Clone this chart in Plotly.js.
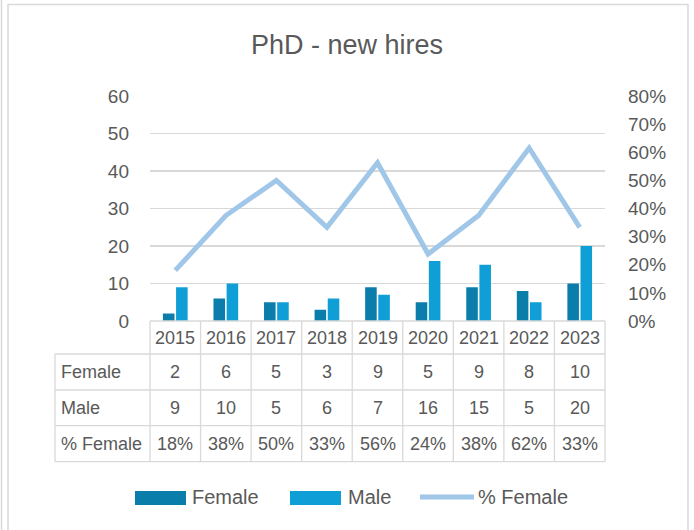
<!DOCTYPE html>
<html>
<head>
<meta charset="utf-8">
<script src="https://cdn.plot.ly/plotly-3.0.1.min.js"></script>
<style>html,body{margin:0;padding:0;background:#fff;}#chart{width:694px;height:530px;}</style>
</head>
<body>
<div id="chart"></div>
<script>
// ---- data ----
var years = ['2015','2016','2017','2018','2019','2020','2021','2022','2023'];
var female = [2, 6, 5, 3, 9, 5, 9, 8, 10];
var male = [9, 10, 5, 6, 7, 16, 15, 5, 20];
var pctFemale = [0.18, 0.375, 0.5, 0.333, 0.5625, 0.238, 0.375, 0.615, 0.333];
var rowNames = ['Female', 'Male', '% Female'];
var leftTicks = [0, 10, 20, 30, 40, 50, 60];
var rightTicks = [0, 0.1, 0.2, 0.3, 0.4, 0.5, 0.6, 0.7, 0.8];

// ---- styling / geometry ----
var W = 694, H = 530;
var FONT = 'Liberation Sans, Arial, sans-serif';
var TXT = '#595959';
var GRID = '#d9d9d9';
var cFemale = '#0B7DAB', cMale = '#0F9ED5', cLine = '#A0C6E8';
var px = function (x) { return x / W; };
var py = function (y) { return (H - y) / H; };
var plotL = 150, plotR = 605, plotT = 96, plotB = 321;

var traces = [
  { type: 'bar', name: 'Female', x: years, y: female, marker: { color: cFemale }, yaxis: 'y' },
  { type: 'bar', name: 'Male', x: years, y: male, marker: { color: cMale }, yaxis: 'y' },
  { type: 'scatter', mode: 'lines', name: '% Female', x: years, y: pctFemale, yaxis: 'y2',
    line: { color: cLine, width: 5 } }
];

var shapes = [];
var annotations = [];
var lineStyle = { color: GRID, width: 1.3 };

// outer frames
shapes.push({ type: 'line', xref: 'paper', yref: 'paper', x0: px(1.5), x1: px(1.5), y0: 0, y1: 1, line: { color: GRID, width: 1.5 } });
shapes.push({ type: 'rect', xref: 'paper', yref: 'paper', x0: px(8), x1: px(688), y0: -0.02, y1: py(4.5), line: { color: GRID, width: 1.5 } });

// data table grid
var rowLines = [354, 390, 425.7, 461.7];
var tableLeft = 55, tableBottom = 461.7;
shapes.push({ type: 'line', xref: 'paper', yref: 'paper', x0: px(plotL), x1: px(plotR), y0: py(plotB), y1: py(plotB), line: lineStyle });
rowLines.forEach(function (y) {
  shapes.push({ type: 'line', xref: 'paper', yref: 'paper', x0: px(tableLeft), x1: px(plotR), y0: py(y), y1: py(y), line: lineStyle });
});
shapes.push({ type: 'line', xref: 'paper', yref: 'paper', x0: px(tableLeft), x1: px(tableLeft), y0: py(354), y1: py(tableBottom), line: lineStyle });
var colW = (plotR - plotL) / years.length;
for (var k = 0; k <= years.length; k++) {
  var xx = plotL + k * colW;
  shapes.push({ type: 'line', xref: 'paper', yref: 'paper', x0: px(xx), x1: px(xx), y0: py(plotB), y1: py(tableBottom), line: lineStyle });
}

// table text
var rowCenters = [338, 372, 408, 443.7];
var cellFont = { family: FONT, size: 18, color: TXT };
var rows = [
  years,
  female.map(String),
  male.map(String),
  pctFemale.map(function (v) { return Math.round(v * 100) + '%'; })
];
rows.forEach(function (vals, r) {
  vals.forEach(function (v, i) {
    annotations.push({ xref: 'paper', yref: 'paper', x: px(plotL + (i + 0.5) * colW), y: py(rowCenters[r]), text: v,
      showarrow: false, xanchor: 'center', yanchor: 'middle', font: cellFont });
  });
});
rowNames.forEach(function (n, r) {
  annotations.push({ xref: 'paper', yref: 'paper', x: px(59), y: py(rowCenters[r + 1]), text: n,
    showarrow: false, xanchor: 'left', yanchor: 'middle', font: cellFont });
});

// legend (drawn)
var legFont = { family: FONT, size: 20, color: TXT };
var legY = 497;
shapes.push({ type: 'rect', xref: 'paper', yref: 'paper', x0: px(135), x1: px(186), y0: py(505), y1: py(491), fillcolor: cFemale, line: { width: 0 } });
shapes.push({ type: 'rect', xref: 'paper', yref: 'paper', x0: px(290), x1: px(341), y0: py(505), y1: py(491), fillcolor: cMale, line: { width: 0 } });
shapes.push({ type: 'line', xref: 'paper', yref: 'paper', x0: px(420), x1: px(474), y0: py(legY), y1: py(legY), line: { color: cLine, width: 5 } });
[['Female', 190], ['Male', 346], ['% Female', 476]].forEach(function (d) {
  annotations.push({ xref: 'paper', yref: 'paper', x: px(d[1]), y: py(legY), text: d[0], showarrow: false,
    xanchor: 'left', yanchor: 'middle', font: legFont });
});

var layout = {
  width: W, height: H,
  margin: { l: 0, r: 0, t: 0, b: 0 },
  paper_bgcolor: '#ffffff', plot_bgcolor: '#ffffff',
  showlegend: false,
  barmode: 'group', bargap: 0.48, bargroupgap: 0.12,
  title: { text: 'PhD - new hires', x: 0.5, xanchor: 'center', y: py(44.9), yanchor: 'middle',
    font: { family: FONT, size: 27, color: TXT } },
  xaxis: { type: 'category', domain: [px(plotL), px(plotR)], range: [-0.5, years.length - 0.5],
    showticklabels: false, showgrid: false, zeroline: false, showline: false, ticks: '' },
  yaxis: { domain: [py(plotB), py(plotT)], range: [0, 60], tickvals: leftTicks,
    showgrid: true, gridcolor: GRID, gridwidth: 1.3, zeroline: false, showline: false, ticks: '',
    tickfont: { family: FONT, size: 19, color: TXT }, ticklabelstandoff: 20 },
  yaxis2: { overlaying: 'y', side: 'right', range: [0, 0.8], tickvals: rightTicks, tickformat: '.0%',
    showgrid: false, zeroline: false, showline: false, ticks: '',
    tickfont: { family: FONT, size: 19, color: TXT }, ticklabelstandoff: 22 },
  shapes: shapes,
  annotations: annotations
};

Plotly.newPlot('chart', traces, layout, { displayModeBar: false, staticPlot: true });
</script>
</body>
</html>
